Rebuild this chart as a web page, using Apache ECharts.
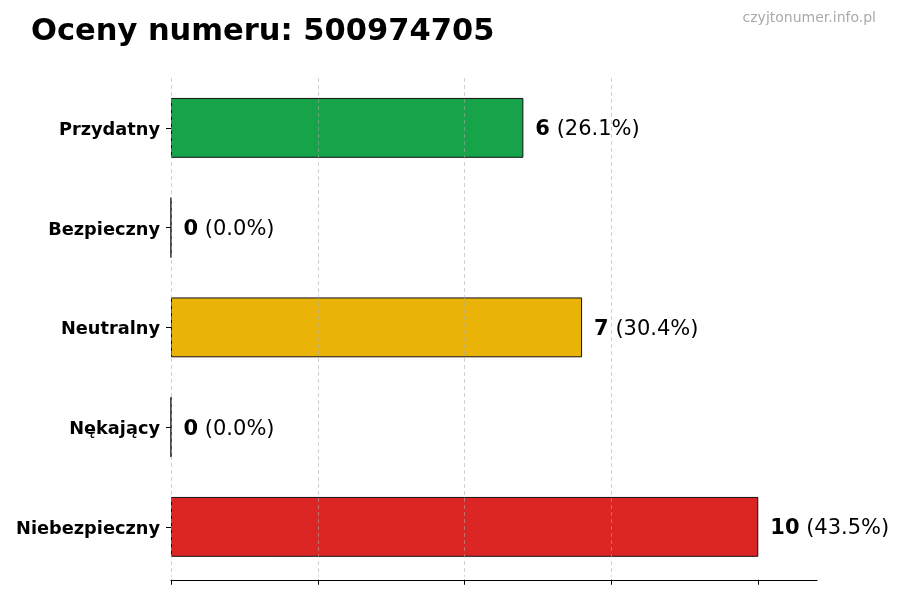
<!DOCTYPE html>
<html>
<head>
<meta charset="utf-8">
<script src="https://cdn.jsdelivr.net/npm/echarts@6/dist/echarts.min.js"></script>
<style>html,body{margin:0;padding:0;background:#fff}#c{width:900px;height:600px}</style>
</head>
<body>
<div id="c"></div>
<script>
const categories = ['Przydatny', 'Bezpieczny', 'Neutralny', 'Nękający', 'Niebezpieczny'];
const values = [6, 0, 7, 0, 10];
const colors = ['#17a34a', '#22c55e', '#eab308', '#f97316', '#dc2626'];
const xTicks = [0, 2.5, 5, 7.5, 10];
const titleText = 'Oceny numeru: 500974705';
const watermark = 'czyjtonumer.info.pl';

const total = values.reduce((a, b) => a + b, 0);
const font = '"DejaVu Sans", sans-serif';
const chart = echarts.init(document.getElementById('c'), null, {renderer: 'canvas'});
chart.setOption({
  backgroundColor: '#fff',
  animation: false,
  title: [{
    text: titleText, left: 26, top: 12,
    textStyle: {fontFamily: font, fontWeight: 'bold', fontSize: 30.5, color: '#000'}
  }, {
    text: watermark, right: 19, top: 6,
    textStyle: {fontFamily: font, fontWeight: 'normal', fontSize: 14, color: '#aaaaaa'}
  }],
  grid: {left: 171, right: 83, top: 78, bottom: 23.25, containLabel: false},
  xAxis: {
    type: 'value', min: 0, max: 11, interval: 2.5, z: 5, offset: 3,
    axisLine: {show: true, lineStyle: {color: '#000', width: 1.2}},
    axisTick: {show: true, length: 5, customValues: xTicks, lineStyle: {color: '#000'}},
    axisLabel: {show: false},
    splitLine: {show: true, showMaxLine: false, lineStyle: {color: 'rgba(170,170,170,0.55)', type: [4, 3], width: 1}}
  },
  yAxis: {
    type: 'category', data: categories, inverse: true,
    axisLine: {show: false},
    axisTick: {show: true, length: 5, alignWithLabel: true, lineStyle: {color: '#000'}},
    axisLabel: {
      margin: 11, fontFamily: font, fontWeight: 'bold', fontSize: 17.75, color: '#000',
      formatter: v => '{a|' + v + '}',
      rich: {a: {fontFamily: font, fontWeight: 'bold', fontSize: 17.75, color: '#000', padding: [5, 0, 0, 0]}}
    },
    splitLine: {show: false}
  },
  series: [{
    type: 'bar',
    barWidth: '60%',
    data: values.map((v, i) => ({value: v, itemStyle: {color: colors[i]}})),
    itemStyle: {borderColor: '#111', borderWidth: 1},
    label: {
      show: true, position: 'right', distance: 12, offset: [0, 2],
      fontFamily: font, fontSize: 21, color: '#000',
      formatter: p => '{b|' + p.value + '} (' + (p.value / total * 100).toFixed(1) + '%)',
      rich: {b: {fontFamily: font, fontWeight: 'bold', fontSize: 21, color: '#000'}}
    }
  }]
});
</script>
</body>
</html>
